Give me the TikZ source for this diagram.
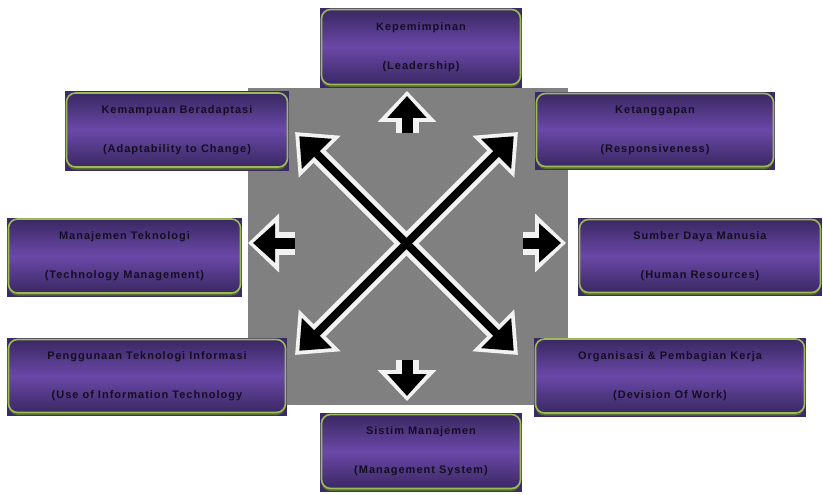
\documentclass[tikz,border=0pt]{standalone}
\usepackage{fontspec}
\setmainfont{Liberation Sans}
\newfontfamily\boxfont{Liberation Sans}[LetterSpace=9]
\usetikzlibrary{arrows.meta,shadows}

\definecolor{panelgray}{RGB}{128,128,128}
\definecolor{boxdark}{RGB}{58,40,98}
\definecolor{boxlight}{RGB}{106,72,168}
\definecolor{boxback}{RGB}{60,42,102}
\definecolor{boxedge}{RGB}{155,187,89}
\definecolor{boxshadow}{RGB}{88,108,52}
\definecolor{boxtext}{RGB}{20,14,34}
\definecolor{rimwhite}{RGB}{242,242,242}

\tikzset{
  factor/.style={draw=boxedge, line width=1.6pt, rounded corners=9pt,
    top color=boxdark, bottom color=boxdark, middle color=boxlight,
    text=boxtext, font=\boxfont\bfseries\fontsize{11}{13}\selectfont,
    align=center, inner sep=0pt,
    drop shadow={shadow xshift=0pt, shadow yshift=-2.5pt, fill=boxshadow, opacity=1}},
  % big crossing arrows
  crossrim/.style={rimwhite, line width=17pt,
    {Triangle[length=35pt,width=57pt]}-{Triangle[length=35pt,width=57pt]}},
  crosscore/.style={black, line width=8pt, shorten >=6pt, shorten <=6pt,
    {Triangle[length=25pt,width=41pt]}-{Triangle[length=25pt,width=41pt]}},
  % small block arrows
  pointrim/.style={rimwhite, line width=23pt, -{Triangle[length=31pt,width=57pt]}},
  pointcore/.style={black, line width=11pt, shorten >=5pt, -{Triangle[length=22pt,width=38pt]}}
}

\begin{document}
\begin{tikzpicture}[x=1pt,y=-1pt]
  \useasboundingbox (0,0) rectangle (823,495);

  % gray panel behind the arrows
  \fill[panelgray] (248,88) rectangle (568,405);

  % factor boxes: name/x/y/width/height/line one/line two
  \foreach \name/\cx/\cy/\w/\h/\lineA/\lineB in {
      lead/421/48/202/80/Kepemimpinan/(Leadership),
      adapt/177/131/224/79/Kemampuan Beradaptasi/(Adaptability to Change),
      resp/655/131/240/78/Ketanggapan/(Responsiveness),
      tech/124.5/257/235/79/Manajemen Teknologi/(Technology Management),
      human/700/257/244/78/Sumber Daya Manusia/(Human Resources),
      info/147/377/280/78/Penggunaan Teknologi Informasi/(Use of Information Technology,
      work/670/377/272/79/Organisasi \& Pembagian Kerja/(Devision Of Work),
      system/421/452.5/202/79/Sistim Manajemen/(Management System)} {
    \fill[boxback] (\cx-\w/2,\cy-\h/2) rectangle (\cx+\w/2,\cy+\h/2);
    \node[factor, minimum width=\w pt-3pt, minimum height=\h pt-5pt] (\name) at (\cx,\cy-1) {\lineA\\[26pt]\lineB};
  }

  % arrow end points
  \coordinate (hub) at (407,243);
  \coordinate (ul) at (295,132);
  \coordinate (ur) at (518,132);
  \coordinate (ll) at (295,355);
  \coordinate (lr) at (518,355);

  \draw[crossrim] (ul) -- (lr);
  \draw[crossrim] (ur) -- (ll);
  \draw[crosscore] (ul) -- (lr);
  \draw[crosscore] (ur) -- (ll);

  % small arrows: base/tip
  \foreach \bx/\by/\tx/\ty in {407/133/407/91, 407/360/407/401, 295/243/248/243, 523/243/566/243} {
    \draw[pointrim] (\bx,\by) -- (\tx,\ty);
    \draw[pointcore] (\bx,\by) -- (\tx,\ty);
  }
\end{tikzpicture}
\end{document}
